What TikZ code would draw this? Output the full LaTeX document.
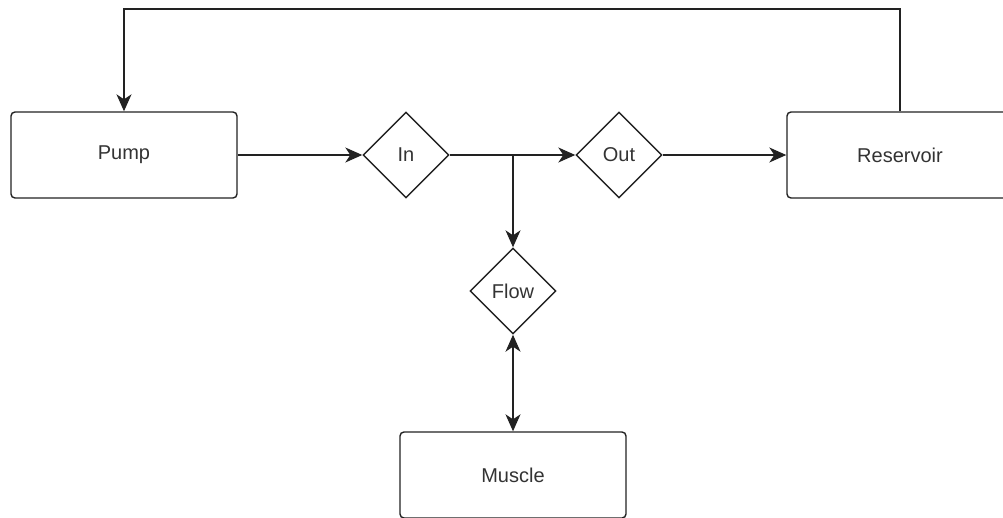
\documentclass[tikz,border=0pt]{standalone}
\usepackage{fontspec}
\setmainfont{Liberation Sans}
\usetikzlibrary{shapes.geometric,arrows.meta}
\definecolor{lc}{HTML}{222222}
\definecolor{tc}{HTML}{333333}

\begin{document}
\begin{tikzpicture}[x=1pt,y=-1pt,
  every node/.style={text=tc, font=\fontsize{20}{24}\selectfont},
  box/.style={draw=lc, line width=1.4pt, rounded corners=4pt,
    minimum width=226pt, minimum height=86pt, inner sep=0pt},
  gate/.style={draw=lc, diamond, aspect=1, line width=1.4pt,
    minimum width=86pt, minimum height=86pt, inner sep=0pt},
  link/.style={draw=lc, line width=1.4pt, -{Stealth[length=17pt,width=15pt,inset=5pt]}}
]
\useasboundingbox (0,0) rectangle (1003,517);
\clip (0,0) rectangle (1003,517);

% units and the control points between them
\node[box] (pump) at (124,155) {Pump};
\node[box] (reservoir) at (900,155) {Reservoir};
\node[box] (muscle) at (513,475) {Muscle};
\node[gate] (in) at (406,155) {In};
\node[gate] (out) at (619,155) {Out};
\node[gate] (flow) at (513,291) {Flow};

\coordinate (split) at (513,155);
\coordinate (top) at (0,9);

% main line
\draw[link] (pump) -- (in);
\draw[link] (in) -- (out);
\draw[link] (out) -- (reservoir);

% branch to the muscle
\draw[link] (split) -- (flow.north);
\draw[draw=lc, line width=1.4pt,
  {Stealth[length=17pt,width=15pt,inset=5pt]}-{Stealth[length=17pt,width=15pt,inset=5pt]}]
  (flow.south) -- (muscle.north);

% return from the reservoir to the pump
\draw[link] (reservoir.north) |- (top -| pump.north) -- (pump.north);
\end{tikzpicture}
\end{document}
